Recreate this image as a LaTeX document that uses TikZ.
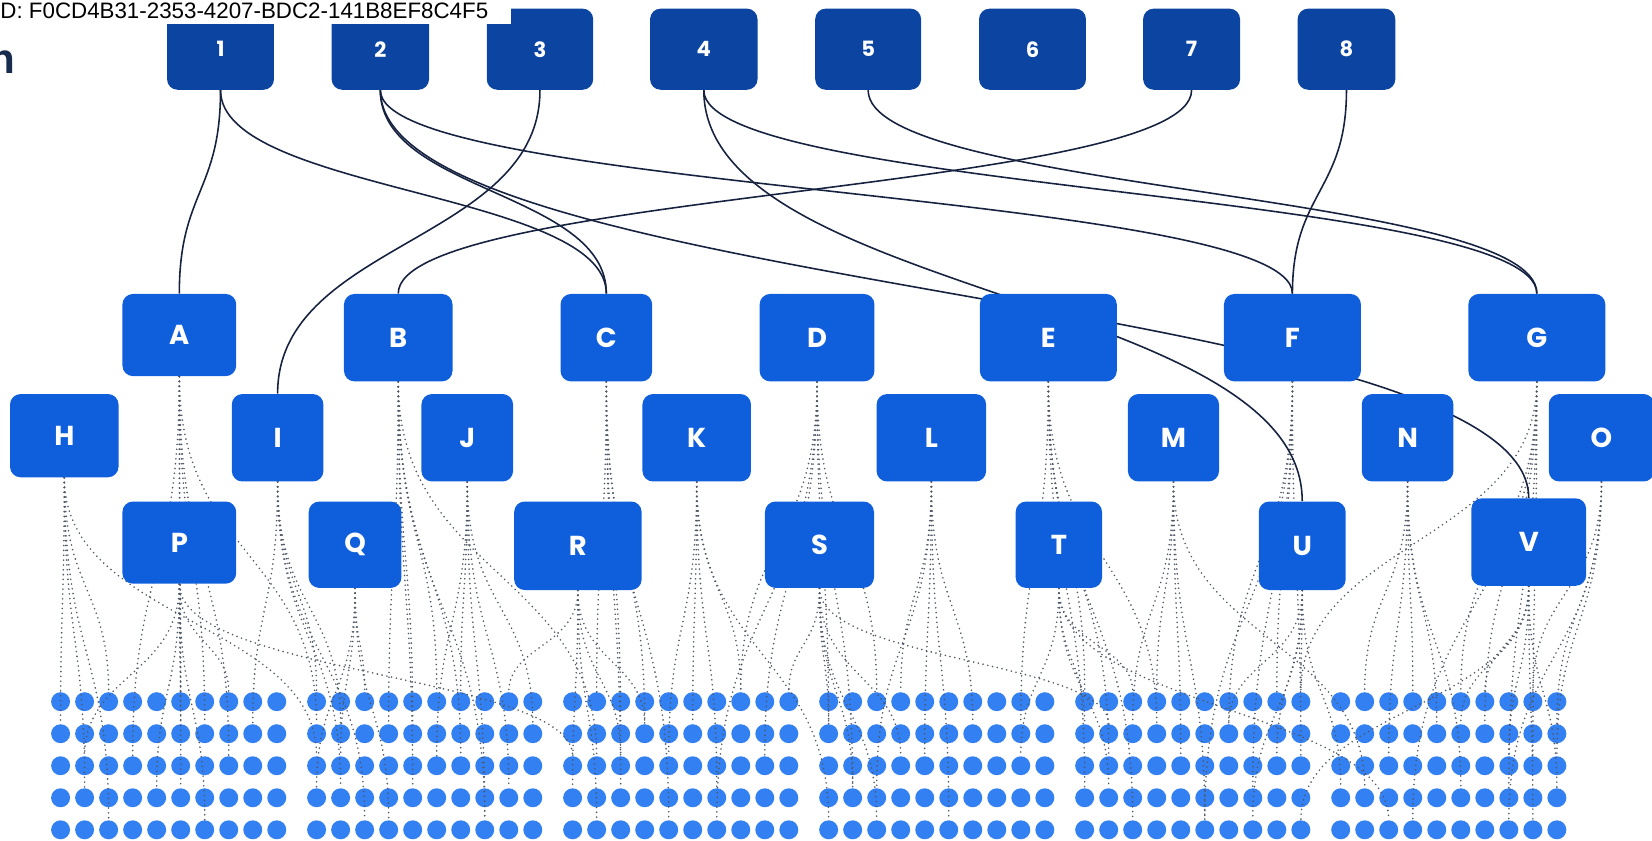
\documentclass[tikz,border=0pt]{standalone}
\usepackage{fontspec}
\setmainfont{Liberation Sans}
\newfontfamily\lblfont{Poppins}
\usetikzlibrary{calc}
\definecolor{topblue}{HTML}{0B45A1}
\definecolor{midblue}{HTML}{0F5FDD}
\definecolor{dotblue}{HTML}{3380F2}
\definecolor{edgenavy}{HTML}{16223F}
\definecolor{dotgrey}{HTML}{4F5866}
\definecolor{titlenavy}{HTML}{172B4D}
\pgfdeclarelayer{dotsl}\pgfdeclarelayer{dottedl}\pgfdeclarelayer{edgel}\pgfdeclarelayer{topl}
\pgfsetlayers{dotsl,dottedl,edgel,main,topl}
\newcommand\lvlink[3]{\path ($(#2)!.5!(#3)$) coordinate (lvm);
  \draw[#1] (#2) .. controls (#2 |- lvm) and (#3 |- lvm) .. (#3);}
\newcommand\topnode[4]{\node[topbox, minimum width=#3*0.5pt] (t#1) at (#2,46.7) {#4};}
\newcommand\midnode[5]{\node[midbox, minimum width=#4*0.5pt, minimum height=#5*0.5pt] (#1) at (#2,#3) {#1};}
\begin{document}
\begin{tikzpicture}[x=0.5pt,y=-0.5pt,
  topbox/.style={fill=topblue, rounded corners=5pt, inner sep=0pt, text=white,
    font=\lblfont\bfseries\fontsize{10}{12}\selectfont, minimum height=38.5pt},
  midbox/.style={fill=midblue, rounded corners=5pt, inner sep=0pt, text=white,
    font=\lblfont\bfseries\fontsize{13}{15}\selectfont},
  griddot/.style={circle, fill=dotblue, minimum size=9pt, inner sep=0pt},
  edge/.style={draw=edgenavy, line width=0.75pt},
  dlink/.style={draw=dotgrey, line width=0.85pt, line cap=round, dash pattern=on 0pt off 2.3pt}]
\useasboundingbox (0,0) rectangle (1568,798);

% top row
\topnode{1}{209.3}{101.5}{1}
\topnode{2}{361}{92.4}{2}
\topnode{3}{512.5}{101}{3}
\topnode{4}{668}{102}{4}
\topnode{5}{824}{100.5}{5}
\topnode{6}{980}{101.5}{6}
\topnode{7}{1131}{92}{7}
\topnode{8}{1278}{92.7}{8}

% middle boxes
\midnode{A}{170.2}{318}{108}{78}
\midnode{B}{378}{320.5}{103}{83}
\midnode{C}{575.5}{320.5}{87}{83}
\midnode{D}{775.5}{320.5}{109}{83}
\midnode{E}{995}{320.5}{130}{83}
\midnode{F}{1226.7}{320.5}{130}{83}
\midnode{G}{1458.7}{320.5}{130}{83}
\midnode{H}{61}{413.5}{103}{79}
\midnode{I}{263.5}{415.5}{87}{83}
\midnode{J}{443.5}{415.5}{87}{83}
\midnode{K}{661.3}{415.5}{103}{83}
\midnode{L}{884}{415.5}{104}{83}
\midnode{M}{1113.8}{415.5}{86.5}{83}
\midnode{N}{1336}{415.5}{87}{83}
\midnode{O}{1520}{415.5}{100}{83}
\midnode{P}{170.2}{515}{108}{78}
\midnode{Q}{337}{517}{88}{82}
\midnode{R}{548.5}{518}{121}{84}
\midnode{S}{777.8}{517}{103.5}{82}
\midnode{T}{1005}{517}{82}{82}
\midnode{U}{1236}{518}{82.5}{84}
\midnode{V}{1451}{514.5}{109}{83}

% grid of dots
\begin{pgfonlayer}{dotsl}
\foreach \g in {0,...,5}{\foreach \c in {0,...,9}{\foreach \r in {0,...,4}{
  \node[griddot] (d\g-\c-\r) at ({57.5+243*\g+22.8*\c},{666+30.4*\r}) {};
}}}
\end{pgfonlayer}

% dotted links
\begin{pgfonlayer}{dottedl}
\foreach \n/\g/\c/\r in {A/0/3/2, A/0/5/3, A/0/6/1, A/0/7/2, A/0/5/0, A/1/0/1,
B/1/3/1, B/1/4/3, B/1/5/0, B/1/6/2, B/1/7/4, B/1/4/1, B/2/1/2,
C/2/1/0, C/2/2/3, C/2/3/1, C/2/4/4, C/2/2/1,
D/2/7/0, D/2/8/2, D/3/0/1, D/3/1/3, D/3/2/0, D/2/6/4,
E/3/8/1, E/4/0/0, E/4/1/2, E/4/2/4, E/4/0/3, E/4/3/1,
F/4/6/1, F/4/7/3, F/4/8/0, F/4/5/4, F/4/9/2,
G/5/6/1, G/5/7/3, G/5/5/0, G/5/3/4, G/5/8/2, G/4/9/0,
H/0/0/1, H/0/1/3, H/0/2/0, H/0/2/4, H/1/0/2,
I/1/0/0, I/1/1/3, I/0/8/1, I/1/2/4, I/1/1/1,
J/1/5/2, J/1/6/0, J/1/8/3, J/1/9/1, J/1/7/4,
K/2/5/1, K/2/6/3, K/2/7/0, K/2/4/2, K/3/0/4,
L/3/3/0, L/3/4/2, L/3/5/4, L/3/6/1, L/3/2/3,
M/4/3/0, M/4/4/2, M/4/5/4, M/4/2/1, M/5/1/3,
N/5/1/0, N/5/2/2, N/5/4/1, N/5/5/3, N/5/3/0,
O/5/8/0, O/5/9/2, O/5/7/4, O/5/9/1,
P/0/4/3, P/0/5/1, P/0/6/4, P/0/7/0, P/0/1/2, P/2/0/2,
Q/1/1/2, Q/1/2/0, Q/1/3/4, Q/1/0/3,
R/2/0/3, R/2/1/4, R/2/3/1, R/1/8/0, R/2/2/2,
S/3/0/1, S/3/1/3, S/2/9/0, S/3/2/4, S/3/3/2, S/4/1/1,
T/4/0/1, T/4/1/3, T/3/8/2, T/4/2/0, T/5/2/4,
U/4/8/2, U/4/9/0, U/4/7/4, U/5/0/3, U/4/6/1,
V/5/7/2, V/5/6/0, V/5/8/4, V/5/9/3, V/4/9/4, V/5/5/1}{
  \lvlink{dlink}{\n.south}{d\g-\c-\r}
}
\end{pgfonlayer}

% solid links
\begin{pgfonlayer}{edgel}
\foreach \s/\t in {1/A, 1/C, 2/C, 2/F, 2/V, 3/I, 4/U, 4/G, 5/G, 7/B, 8/F}{
  \lvlink{edge}{t\s.south}{\t.north}
}
\end{pgfonlayer}

% header text
\begin{pgfonlayer}{topl}
\fill[white] (-2,-2) rectangle (485,22.5);
\node[anchor=base west, inner sep=0pt, font=\fontsize{10.6}{12}\selectfont] (idtxt) at (0,18) {D: F0CD4B31-2353-4207-BDC2-141B8EF8C4F5};
\node[anchor=base east, inner sep=0pt, text=titlenavy, font=\bfseries\fontsize{20}{24}\selectfont] (ttl) at (14.5,70) {n};
\end{pgfonlayer}
\end{tikzpicture}
\end{document}
